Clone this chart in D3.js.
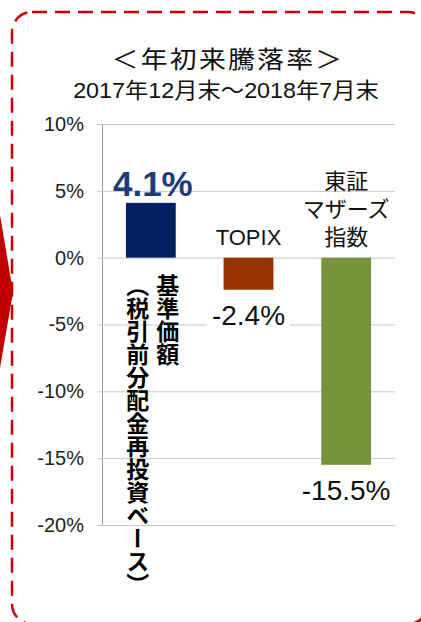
<!DOCTYPE html>
<html>
<head>
<meta charset="utf-8">
<script src="https://cdn.jsdelivr.net/npm/d3@7"></script>
<style>
  body { margin: 0; background: #fff; }
  svg { display: block; font-family: "Liberation Sans", Arial, "Noto Sans CJK JP", sans-serif; }
</style>
</head>
<body>
<svg id="chart" width="421" height="622"></svg>
<script>
// chart data
const categories = ["基準価額（税引前分配金再投資ベース）", "TOPIX", "東証マザーズ指数"];
const values = [4.1, -2.4, -15.5];
const valueLabels = ["4.1%", "-2.4%", "-15.5%"];
const yTicks = [10, 5, 0, -5, -10, -15, -20];
const barColors = ["#002060", "#993300", "#77933C"];
const titleLines = ["＜年初来騰落率＞", "2017年12月末～2018年7月末"];
// how each category name is broken for display
const catLines = [["基準価額", "（税引前分配金再投資ベース）"], ["TOPIX"], ["東証", "マザーズ", "指数"]];

const svg = d3.select("#chart");
const margin = {left: 102, right: 26, top: 124, bottom: 97};
const W = 421, H = 622;

const x = d3.scaleBand()
    .domain(categories)
    .range([margin.left, W - margin.right])
    .paddingInner(0.49)
    .paddingOuter(0.245);
const y = d3.scaleLinear().domain([-20, 10]).range([H - margin.bottom, margin.top]);

  // red arrow on the left edge and the dashed frame
svg.append("path")
    .attr("d", "M0,215 L13,292 L0,368 Z")
    .attr("fill", "#c00000");
svg.append("rect")
    .attr("x", 12).attr("y", 12)
    .attr("width", 416).attr("height", 612)
    .attr("rx", 20)
    .attr("fill", "none")
    .attr("stroke", "#cc0000")
    .attr("stroke-width", 2.5)
    .attr("stroke-dasharray", "15 8");

  // title (glyphs in the original are a bit wide, so stretch horizontally)
svg.append("text")
    .attr("transform", "translate(228,68) scale(1.12,1)")
    .attr("text-anchor", "middle")
    .style("font-size", "24px")
    .style("letter-spacing", "2px")
    .attr("fill", "#111")
    .text(titleLines[0]);
svg.append("text")
    .attr("transform", "translate(226,98) scale(1.06,1)")
    .attr("text-anchor", "middle")
    .style("font-size", "22px")
    .attr("fill", "#111")
    .text(titleLines[1]);

  // y axis with gridlines
const yAxis = svg.append("g")
    .attr("transform", "translate(" + margin.left + ",0)")
    .call(d3.axisLeft(y)
      .tickValues(yTicks)
      .tickSizeInner(-(W - margin.right - margin.left))
      .tickSizeOuter(0)
      .tickPadding(18)
      .tickFormat(d => d + "%"));
yAxis.selectAll(".tick line")
    .attr("x1", -5)
    .attr("stroke", "#c8c8c8");
yAxis.select(".domain").attr("stroke", "#9a9a9a");
yAxis.selectAll(".tick text")
    .style("font-size", "20px")
    .style("font-family", "\"Liberation Sans\", Arial, sans-serif")
    .attr("fill", "#222");

  // bars
svg.selectAll("rect.bar")
    .data(values)
    .join("rect")
    .attr("class", "bar")
    .attr("x", (d, i) => x(categories[i]))
    .attr("width", x.bandwidth())
    .attr("y", d => y(Math.max(0, d)))
    .attr("height", d => Math.abs(y(d) - y(0)))
    .attr("fill", (d, i) => barColors[i]);

  // value labels
values.forEach(function(v, i) {
  const cx = x(categories[i]) + x.bandwidth() / 2;
  const g = svg.append("g");
  if (v >= 0) {
    g.append("text")
        .attr("x", cx + 2).attr("y", y(v) - 7)
        .attr("text-anchor", "middle")
        .style("font-size", "35px")
        .style("font-weight", "bold")
        .attr("fill", "#203a78")
        .text(valueLabels[i]);
  } else {
    const t = g.append("text")
        .attr("x", cx).attr("y", y(v) + 35)
        .attr("text-anchor", "middle")
        .style("font-size", "28px")
        .attr("fill", "#111")
        .text(valueLabels[i]);
    const bb = t.node().getBBox();
    g.insert("rect", "text")
        .attr("x", bb.x - 5).attr("y", bb.y)
        .attr("width", bb.width + 10).attr("height", bb.height)
        .attr("fill", "#fff");
  }
});

  // category labels: on the opposite side of zero from the bar
values.forEach(function(v, i) {
  const cx = x(categories[i]) + x.bandwidth() / 2;
  const lines = catLines[i];
  if (v >= 0) {
      // vertical columns, written right to left
    lines.forEach(function(line, j) {
      svg.append("text")
          .attr("x", cx + 17 - j * 30)
          .attr("y", y(0) + 16)
          .style("writing-mode", "vertical-rl")
          .style("font-family", "\"Noto Sans CJK JP\", sans-serif")
          .style("font-size", "23px")
          .style("font-weight", "bold")
          .attr("fill", "#000")
          .text(line);
    });
  } else {
    lines.forEach(function(line, j) {
      svg.append("text")
          .attr("x", cx)
          .attr("y", y(0) - 13 - (lines.length - 1 - j) * 28)
          .attr("text-anchor", "middle")
          .style("font-size", "22px")
          .attr("fill", "#111")
          .text(line);
    });
  }
});
</script>
</body>
</html>
